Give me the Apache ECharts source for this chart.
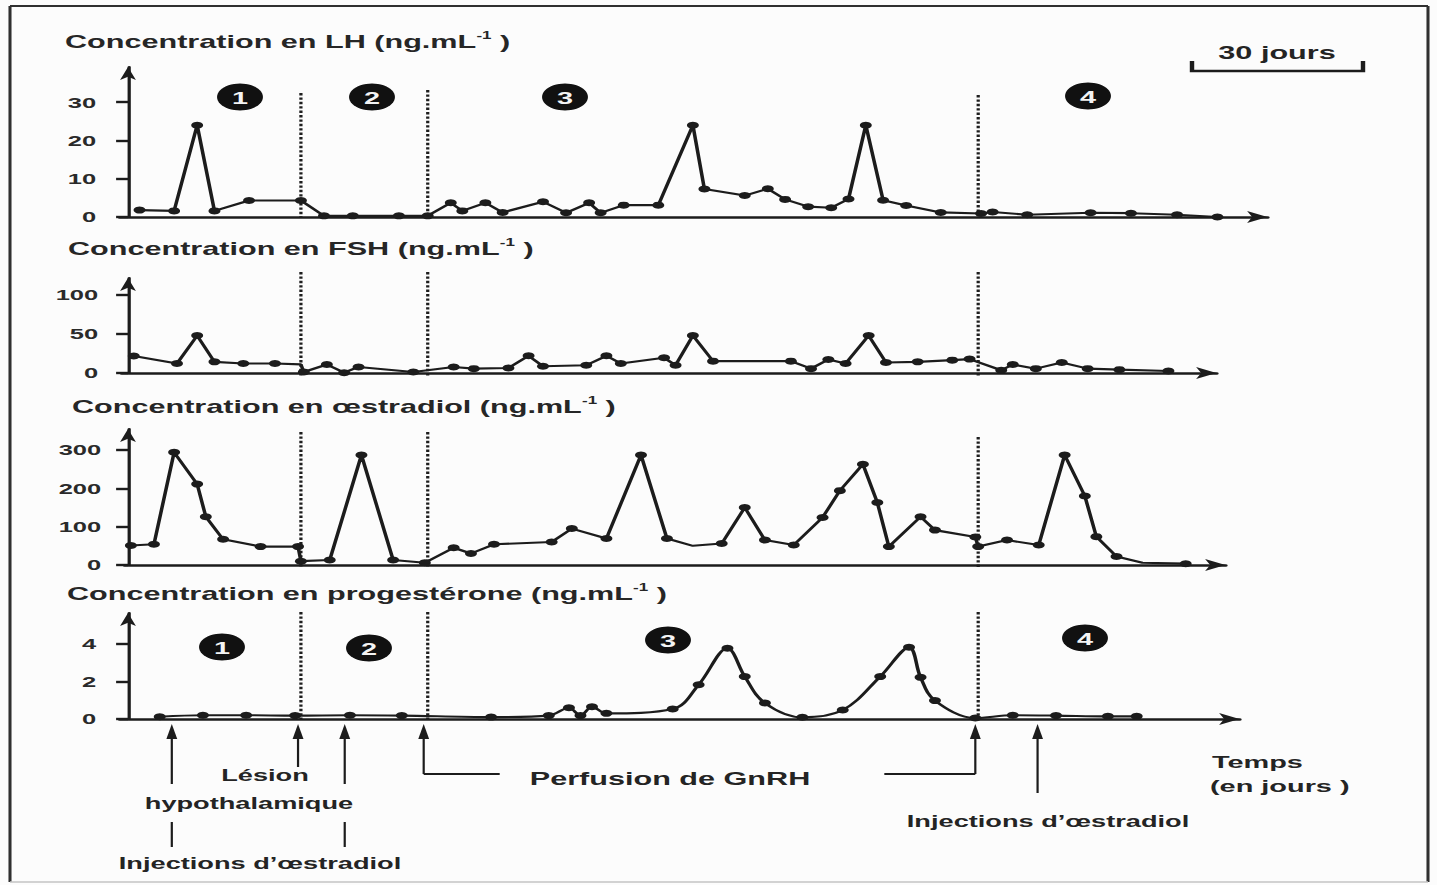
<!DOCTYPE html>
<html>
<head>
<meta charset="utf-8">
<script src="https://cdn.jsdelivr.net/npm/echarts@6/dist/echarts.min.js"></script>
<style>
  html, body { margin: 0; padding: 0; background: #fcfcfc; overflow: hidden; }
  #wrap { width: 1437px; height: 885px; overflow: hidden; position: relative; }
  #chart { position: absolute; left: 0; top: 0; height: 885px; transform-origin: 0 0; }
</style>
</head>
<body>
<div id="wrap"><div id="chart"></div></div>
<script>
// ---- data (time in days) ----
const phaseBounds = [30, 52, 147.5];

const lhDays   = [2, 8, 12, 15, 21, 30, 34, 39, 47, 52, 56, 58, 62, 65, 72, 76, 80, 82, 86, 92,
                  98, 100, 107, 111, 114, 118, 122, 125, 128, 131, 135, 141, 148, 150, 156, 167, 174, 182, 189];
const lhValues = [1.8, 1.6, 24, 1.6, 4.3, 4.3, 0.3, 0.3, 0.3, 0.3, 3.7, 1.6, 3.7, 1.2, 4.0, 1.1, 3.7, 1.1, 3.1, 3.1,
                  24, 7.3, 5.6, 7.4, 4.6, 2.7, 2.4, 4.7, 24, 4.4, 3.0, 1.2, 0.9, 1.3, 0.6, 1.1, 1.0, 0.6, 0];

const fshDays   = [1, 8.5, 12, 15, 20, 25.5, 30, 30.5, 34.5, 37.5, 40, 49.5, 56.5, 60, 66, 69.5, 72, 79.5, 83, 85.5,
                   93, 95, 98, 101.5, 115, 118.5, 121.5, 124.5, 128.5, 131.5, 137, 143, 146, 151.5, 153.5, 157.5, 162, 166.5, 172, 180.5];
const fshValues = [21.7, 12.2, 48, 14.3, 12.2, 12.2, 11, 1.3, 10.9, 0.4, 7.8, 1.3, 7.8, 5.6, 6.5, 22, 8.7, 10, 22, 12.2,
                   19.6, 10, 48, 15.2, 15.2, 5.6, 17.4, 12.2, 48, 13.5, 14.3, 16.5, 17.8, 3.5, 10.9, 5.6, 13.5, 5.6, 4.3, 2.6];
const fshUnmarked = [6];

const e2Days   = [0.5, 4.5, 8, 12, 13.5, 16.5, 23, 29.5, 30, 35, 40.5, 46, 51.5, 56.5, 59.5, 63.5, 73.5, 77, 83, 89,
                  93.5, 98, 103, 107, 110.5, 115.5, 120.5, 123.5, 127.5, 130, 132, 137.5, 140, 147, 147.5, 152.5, 158, 162.5, 166, 168,
                  171.5, 176, 183.5];
const e2Values = [51, 54, 294, 211, 126, 67, 48, 48, 10, 13, 287, 13, 6, 45, 30, 54, 60, 95, 69, 287,
                  69, 50, 56, 150, 65, 52, 124, 194, 263, 163, 48, 126, 91, 73, 48, 65, 52, 287, 180, 74,
                  22, 6, 3.5];
const e2Unmarked = [21, 41];

const progDays   = [5.5, 13, 20.5, 29, 38.5, 47.5, 63, 73, 76.5, 78.5, 80.5, 83, 94.5, 99, 104, 107, 110.5, 117, 124, 130.5,
                    135.5, 137.5, 140, 147, 153.5, 161, 170, 175];
const progValues = [0.12, 0.2, 0.2, 0.18, 0.2, 0.18, 0.1, 0.18, 0.6, 0.18, 0.65, 0.3, 0.53, 1.83, 3.77, 2.26, 0.85, 0.09, 0.48, 2.26,
                    3.82, 2.22, 0.98, 0.05, 0.2, 0.18, 0.14, 0.14];

const lhTicks   = [0, 10, 20, 30];
const fshTicks  = [0, 50, 100];
const e2Ticks   = [0, 100, 200, 300];
const progTicks = [0, 2, 4];

const panelTitles = [
  'Concentration en LH (ng.mL{sup|-1} )',
  'Concentration en FSH (ng.mL{sup|-1} )',
  'Concentration en \u0153stradiol (ng.mL{sup|-1} )',
  'Concentration en progest\u00e9rone (ng.mL{sup|-1} )'
];

// treatment events (days)
const estradiolShotsEarly = [7.6, 37.6];
const lesionDay = 29.5;
const gnrhStart = 51.3;
const gnrhEnd = 147;
const estradiolShotLate = 157.8;

// ---- layout ----
const S = 1.7;              // horizontal stretch of the whole figure
const W = 1437;
const PXD = 173 / 30;       // px per day (30-day scale bar)
const X0 = 128;             // px of day 0
const FONT = '"Liberation Sans", Arial, Helvetica, sans-serif';
const INK = '#1c1c1c';

const el = document.getElementById('chart');
el.style.width = (W / S) + 'px';
el.style.transform = 'scaleX(' + S + ')';

const panels = [
  { L: 120, R: 1268, top: 67,  bottom: 217, yMax: 39.2,  ticks: lhTicks,   days: lhDays,   vals: lhValues,   plain: [],          divTop: [93, 90, 95],    divBottom: 217, smooth: false, tx: 65, ty: 42 },
  { L: 122, R: 1217, top: 278, bottom: 373, yMax: 121.8, ticks: fshTicks,  days: fshDays,  vals: fshValues,  plain: fshUnmarked, divTop: [272, 272, 272], divBottom: 376, smooth: false, tx: 68, ty: 249 },
  { L: 125, R: 1226, top: 429, bottom: 565, yMax: 354.8, ticks: e2Ticks,   days: e2Days,   vals: e2Values,   plain: e2Unmarked,  divTop: [432, 432, 437], divBottom: 567, smooth: false, tx: 72, ty: 407 },
  { L: 120, R: 1240, top: 613, bottom: 719, yMax: 5.65,  ticks: progTicks, days: progDays, vals: progValues, plain: [],          divTop: [612, 612, 612], divBottom: 720, smooth: 0.35,  tx: 67, ty: 594 }
];

const chart = echarts.init(el, null, { renderer: 'svg' });

const option = {
  backgroundColor: '#fcfcfc',
  animation: false,
  title: panels.map((p, i) => ({
    text: panelTitles[i],
    left: p.tx / S,
    top: p.ty - 12,
    padding: 0,
    textStyle: {
      fontFamily: FONT, fontSize: 18, fontWeight: 'bold', color: '#262626', lineHeight: 24,
      rich: { sup: { fontFamily: FONT, fontSize: 10, fontWeight: 'bold', color: '#262626', verticalAlign: 'top', lineHeight: 14 } }
    }
  })),
  grid: panels.map(p => ({
    left: p.L / S,
    right: (W - p.R) / S,
    top: p.top,
    height: p.bottom - p.top,
    outerBoundsMode: 'none'
  })),
  xAxis: panels.map((p, i) => ({
    type: 'value',
    gridIndex: i,
    min: (p.L - X0) / PXD,
    max: (p.R - X0) / PXD,
    axisLine: { show: true, onZero: true, symbol: ['none', 'arrow'], symbolSize: [9, 12], lineStyle: { color: INK, width: 2.6 } },
    axisTick: { show: false },
    axisLabel: { show: false },
    splitLine: { show: false }
  })),
  yAxis: panels.map((p, i) => ({
    type: 'value',
    gridIndex: i,
    min: 0,
    max: p.yMax,
    axisLine: { show: true, onZero: true, symbol: ['none', 'arrow'], symbolSize: [7, 13], lineStyle: { color: INK, width: 1.9 } },
    axisTick: { show: true, customValues: p.ticks, length: 7, lineStyle: { color: INK, width: 2.4 } },
    axisLabel: {
      show: true, customValues: p.ticks, margin: 14,
      fontFamily: FONT, fontSize: 15, fontWeight: 'bold', color: '#2a2a2a'
    },
    splitLine: { show: false }
  })),
  series: panels.map((p, i) => ({
    type: 'line',
    xAxisIndex: i,
    yAxisIndex: i,
    clip: false,
    z: 3,
    smooth: p.smooth,
    showAllSymbol: true,
    symbol: 'circle',
    symbolSize: 7,
    itemStyle: { color: INK },
    lineStyle: { color: INK, width: 2.1 },
    data: p.days.map((d, k) => p.plain.indexOf(k) >= 0
      ? { value: [d, p.vals[k]], symbol: 'none' }
      : [d, p.vals[k]])
  }))
};

chart.setOption(option);

// ---- annotations ----
const g = [];
const line = (x1, y1, x2, y2, w, c, dash) => g.push({
  type: 'line', silent: true, shape: { x1, y1, x2, y2 },
  style: { stroke: c || INK, lineWidth: w || 1.6, lineDash: dash || null }
});
const label = (x, y, text, size, align, fill) => g.push({
  type: 'text', x, y, silent: true,
  style: {
    text, fill: fill || '#242424', fontFamily: FONT, fontSize: size, fontWeight: 'bold',
    align: align || 'center', verticalAlign: 'middle', textAlign: align || 'center', textVerticalAlign: 'middle'
  }
});
const badge = (cx, cy, n) => {
  g.push({ type: 'circle', silent: true, shape: { cx: cx / S, cy, r: 13.5 }, style: { fill: '#111' } });
  label(cx / S, cy + 1, n, 17, 'center', '#f4f4f4');
};
const dayX = (gi, d) => chart.convertToPixel({ gridIndex: gi }, [d, 0])[0];

// frame
line(10 / S, 6, 1428 / S, 6, 2, '#303030');
line(10 / S, 6, 10 / S, 882, 1.8, '#303030');
line(1428 / S, 6, 1428 / S, 882, 1.8, '#303030');
line(10 / S, 882, 1428 / S, 882, 1.5, '#c4c4c4');

// dotted phase boundaries in every panel
panels.forEach((p, i) => {
  phaseBounds.forEach((d, k) => {
    const x = dayX(i, d);
    line(x, p.divTop[k], x, p.divBottom, 1.9, '#1e1e1e', [2.4, 2]);
  });
});

// phase numbers
[[240, 97, '1'], [372, 97, '2'], [565, 97, '3'], [1088, 96, '4'],
 [222, 647, '1'], [369, 648, '2'], [668, 640, '3'], [1085, 638, '4']].forEach(b => badge(b[0], b[1], b[2]));

// 30-day scale bar
g.push({
  type: 'polyline', silent: true,
  shape: { points: [[1192 / S, 61], [1192 / S, 71], [1363 / S, 71], [1363 / S, 61]] },
  style: { stroke: INK, lineWidth: 2.6, fill: null }
});
label(1277 / S, 53, '30 jours', 18);

// treatment arrows under the progesterone axis
const upArrow = (d, yEnd) => {
  const x = dayX(3, d);
  line(x, 734, x, yEnd, 1.3);
  g.push({ type: 'polygon', silent: true, shape: { points: [[x - 3.2, 739], [x, 724], [x + 3.2, 739]] }, style: { fill: INK } });
  return x;
};
estradiolShotsEarly.forEach(d => {
  const x = upArrow(d, 784);
  line(x, 822, x, 847, 1.3);
});
upArrow(lesionDay, 767);
const xs = upArrow(gnrhStart, 774);
line(xs, 774, xs + 76 / S, 774, 1.8);
const xe = upArrow(gnrhEnd, 774);
line(xe - 91 / S, 774, xe, 774, 1.8);
upArrow(estradiolShotLate, 793);

label(265 / S, 776, 'L\u00e9sion', 16);
label(249 / S, 804, 'hypothalamique', 16);
label(260 / S, 864, 'Injections d\u2019\u0153stradiol', 16);
label(670 / S, 779, 'Perfusion de GnRH', 18);
label(1212 / S, 762, 'Temps', 17, 'left');
label(1210 / S, 786, '(en jours )', 17, 'left');
label(1048 / S, 822, 'Injections d\u2019\u0153stradiol', 16);

chart.setOption({ graphic: { elements: g } });
</script>
</body>
</html>
